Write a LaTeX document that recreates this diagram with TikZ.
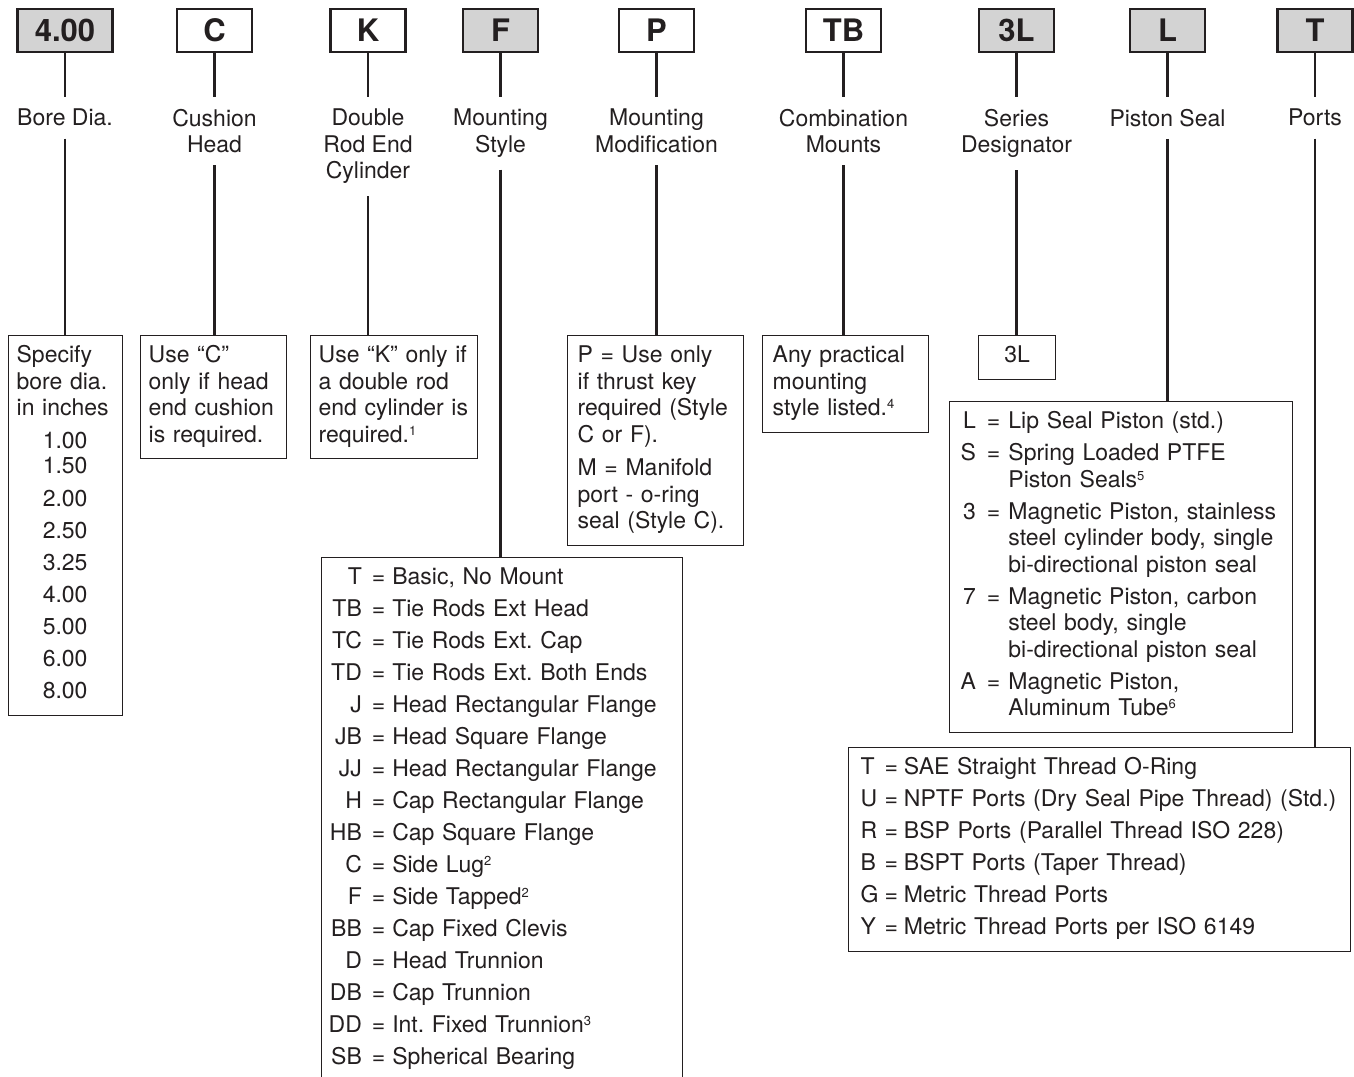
\documentclass[tikz,border=0pt]{standalone}
\usepackage{fontspec}
\setmainfont{TeX Gyre Heros}
\usetikzlibrary{positioning}
\definecolor{ccnoir}{RGB}{35,31,32}
\definecolor{ccgrey}{RGB}{211,211,211}
\newcommand{\centre}[1]{\multicolumn{1}{@{}c@{}}{#1}}
\newcommand{\expo}[1]{\raisebox{7pt}{\fontsize{13}{13}\selectfont #1}}
\frenchspacing

\begin{document}
\begin{tikzpicture}[x=1pt,y=-1pt]
  \useasboundingbox (0,0) rectangle (1354,1076);

  % Styles des cases et des traits
  \tikzstyle{case} = [draw=ccnoir, line width=2.5pt, fill=white, text=ccnoir, minimum width=75pt, minimum height=43pt, inner sep=0pt, text height=22.5pt, text depth=0pt, font=\fontsize{31}{31}\selectfont\bfseries]
  \tikzstyle{casegrise} = [case, fill=ccgrey]
  \tikzstyle{etiquette} = [anchor=north, inner xsep=0pt, inner ysep=12pt, align=center, text=ccnoir, font=\fontsize{23}{26.5}\selectfont]
  \tikzstyle{boite} = [draw=ccnoir, line width=1.3pt, fill=white, anchor=north west, inner xsep=8pt, inner ysep=8.5pt, align=left, text=ccnoir, font=\fontsize{23}{26.5}\selectfont]
  \tikzstyle{trait} = [ccnoir, line width=2.5pt]

  % Cases du code
  \draw (65,30.5) node[casegrise, minimum width=95pt] (c400) {4.00};
  \draw (214.5,30.5) node[case] (cC) {C};
  \draw (368,30.5) node[case] (cK) {K};
  \draw (500.5,30.5) node[casegrise] (cF) {F};
  \draw (656.5,30.5) node[case] (cP) {P};
  \draw (843.5,30.5) node[case] (cTB) {TB};
  \draw (1016.5,30.5) node[casegrise] (c3L) {3L};
  \draw (1167.5,30.5) node[casegrise] (cL) {L};
  \draw (1315,30.5) node[casegrise] (cT) {T};

  % Titres
  \draw (65,97) node[etiquette] (tbore) {Bore Dia.};
  \draw (214.5,97) node[etiquette] (tcush) {Cushion\\Head};
  \draw (368,97) node[etiquette] (tdouble) {Double\\Rod End\\Cylinder};
  \draw (500.5,97) node[etiquette] (tstyle) {Mounting\\Style};
  \draw (656.5,97) node[etiquette] (tmodif) {Mounting\\Modification};
  \draw (843.5,97) node[etiquette] (tcomb) {Combination\\Mounts};
  \draw (1016.5,97) node[etiquette] (tserie) {Series\\Designator};
  \draw (1167.5,97) node[etiquette] (tpiston) {Piston Seal};
  \draw (1315,97) node[etiquette] (tports) {Ports};

  % Boites de choix
  \draw (8,335) node[boite, text width=98pt] (bbore) {\begin{tabular}{@{}p{97pt}@{}}
    Specify\\
    bore dia.\\
    in inches\\[6.5pt]
    \centre{1.00}\\[-1.5pt]
    \centre{1.50}\\[6.5pt]
    \centre{2.00}\\[5.5pt]
    \centre{2.50}\\[5.5pt]
    \centre{3.25}\\[5.5pt]
    \centre{4.00}\\[5.5pt]
    \centre{5.00}\\[5.5pt]
    \centre{6.00}\\[5.5pt]
    \centre{8.00}
  \end{tabular}};
  \draw (140,335) node[boite, text width=130pt] (bcush) {\begin{tabular}{@{}l@{}}
    Use “C”\\
    only if head\\
    end cushion\\
    is required.
  \end{tabular}};
  \draw (310,335) node[boite, text width=151pt] (bdouble) {\begin{tabular}{@{}l@{}}
    Use “K” only if\\
    a double rod\\
    end cylinder is\\
    required.\expo{1}
  \end{tabular}};
  \draw (567,335) node[boite, inner xsep=10pt, text width=156pt] (bmodif) {\begin{tabular}{@{}l@{}}
    P = Use only\\
    if thrust key\\
    required (Style\\
    C or F).\\[7pt]
    M = Manifold\\
    port - o-ring\\
    seal (Style C).
  \end{tabular}};
  \draw (762,335) node[boite, inner xsep=10pt, text width=146pt] (bcomb) {\begin{tabular}{@{}l@{}}
    Any practical\\
    mounting\\
    style listed.\expo{4}
  \end{tabular}};
  \draw (978,335) node[boite, inner xsep=0pt, text width=77pt, align=center] (bserie) {\begin{tabular}{@{}c@{}}
    3L
  \end{tabular}};
  \draw (949,401) node[boite, inner xsep=11pt, text width=321pt] (bpiston) {\begin{tabular}{@{}r@{\hspace{11pt}}c@{\hspace{8pt}}l@{}}
    L & = & Lip Seal Piston (std.)\\[5.5pt]
    S & = & Spring Loaded PTFE\\
      &   & Piston Seals\expo{5}\\[5.5pt]
    3 & = & Magnetic Piston, stainless\\
      &   & steel cylinder body, single\\
      &   & bi-directional piston seal\\[5.5pt]
    7 & = & Magnetic Piston, carbon\\
      &   & steel body, single\\
      &   & bi-directional piston seal\\[5.5pt]
    A & = & Magnetic Piston,\\
      &   & Aluminum Tube\expo{6}
  \end{tabular}};
  \draw (321,557) node[boite, inner xsep=7pt, text width=347pt] (bstyle) {\begin{tabular}{@{}r@{\hspace{10pt}}c@{\hspace{7pt}}l@{}}
    T & = & Basic, No Mount\\[5.5pt]
    TB & = & Tie Rods Ext Head\\[5.5pt]
    TC & = & Tie Rods Ext. Cap\\[5.5pt]
    TD & = & Tie Rods Ext. Both Ends\\[5.5pt]
    J & = & Head Rectangular Flange\\[5.5pt]
    JB & = & Head Square Flange\\[5.5pt]
    JJ & = & Head Rectangular Flange\\[5.5pt]
    H & = & Cap Rectangular Flange\\[5.5pt]
    HB & = & Cap Square Flange\\[5.5pt]
    C & = & Side Lug\expo{2}\\[5.5pt]
    F & = & Side Tapped\expo{2}\\[5.5pt]
    BB & = & Cap Fixed Clevis\\[5.5pt]
    D & = & Head Trunnion\\[5.5pt]
    DB & = & Cap Trunnion\\[5.5pt]
    DD & = & Int. Fixed Trunnion\expo{3}\\[5.5pt]
    SB & = & Spherical Bearing\\[12pt]
  \end{tabular}};
  \draw (848,747) node[boite, inner xsep=12pt, text width=478pt] (bports) {\begin{tabular}{@{}l@{\hspace{6pt}}c@{\hspace{6pt}}l@{}}
    T & = & SAE Straight Thread O-Ring\\[5.5pt]
    U & = & NPTF Ports (Dry Seal Pipe Thread) (Std.)\\[5.5pt]
    R & = & BSP Ports (Parallel Thread ISO 228)\\[5.5pt]
    B & = & BSPT Ports (Taper Thread)\\[5.5pt]
    G & = & Metric Thread Ports\\[5.5pt]
    Y & = & Metric Thread Ports per ISO 6149
  \end{tabular}};

  % Case -> titre -> boite
  \draw[trait] (c400.south) -- (tbore.north);
  \draw[trait] (tbore.south) -- (tbore.south |- bbore.north);
  \draw[trait] (cC.south) -- (tcush.north);
  \draw[trait] (tcush.south) -- (tcush.south |- bcush.north);
  \draw[trait] (cK.south) -- (tdouble.north);
  \draw[trait] (tdouble.south) -- (tdouble.south |- bdouble.north);
  \draw[trait] (cF.south) -- (tstyle.north);
  \draw[trait] (tstyle.south) -- (tstyle.south |- bstyle.north);
  \draw[trait] (cP.south) -- (tmodif.north);
  \draw[trait] (tmodif.south) -- (tmodif.south |- bmodif.north);
  \draw[trait] (cTB.south) -- (tcomb.north);
  \draw[trait] (tcomb.south) -- (tcomb.south |- bcomb.north);
  \draw[trait] (c3L.south) -- (tserie.north);
  \draw[trait] (tserie.south) -- (tserie.south |- bserie.north);
  \draw[trait] (cL.south) -- (tpiston.north);
  \draw[trait] (tpiston.south) -- (tpiston.south |- bpiston.north);
  \draw[trait] (cT.south) -- (tports.north);
  \draw[trait] (tports.south) -- (tports.south |- bports.north);

\end{tikzpicture}
\end{document}
